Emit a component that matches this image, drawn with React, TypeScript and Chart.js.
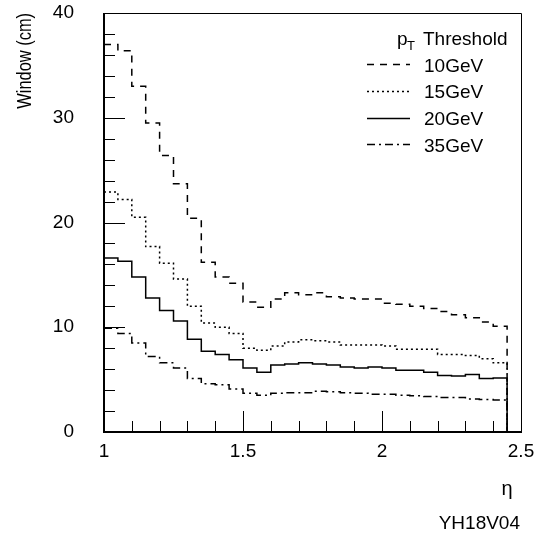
import React, { useEffect, useRef } from "react";
import { Chart, registerables } from "chart.js";

Chart.register(...registerables);

// Lower edges of the eta bins (width 0.05), plus the closing edge
const etaEdges = [
  1.0, 1.05, 1.1, 1.15, 1.2, 1.25, 1.3, 1.35, 1.4, 1.45,
  1.5, 1.55, 1.6, 1.65, 1.7, 1.75, 1.8, 1.85, 1.9, 1.95,
  2.0, 2.05, 2.1, 2.15, 2.2, 2.25, 2.3, 2.35, 2.4,
];
const etaEnd = 2.45;

const window10GeV = [
  37.0, 36.4, 33.0, 29.5, 26.4, 23.7, 20.4, 16.2, 14.8, 14.2,
  12.4, 11.9, 12.7, 13.3, 13.1, 13.3, 12.9, 12.8, 12.7, 12.7,
  12.3, 12.2, 12.0, 11.8, 11.5, 11.2, 10.9, 10.5, 10.1,
];
const window15GeV = [
  22.9, 22.2, 20.5, 17.7, 16.1, 14.6, 12.0, 10.4, 10.0, 9.4,
  8.0, 7.8, 8.2, 8.6, 8.8, 8.7, 8.6, 8.3, 8.3, 8.3,
  8.2, 7.9, 7.9, 7.9, 7.4, 7.4, 7.3, 7.0, 6.6,
];
const window20GeV = [
  16.6, 16.3, 14.8, 12.8, 11.6, 10.6, 8.85, 7.7, 7.4, 6.9,
  6.1, 5.7, 6.4, 6.5, 6.6, 6.5, 6.4, 6.2, 6.1, 6.2,
  6.1, 5.9, 5.9, 5.7, 5.4, 5.35, 5.5, 5.1, 5.15,
];
const window35GeV = [
  9.9, 9.4, 8.5, 7.2, 6.6, 6.1, 5.1, 4.6, 4.5, 4.1,
  3.7, 3.5, 3.7, 3.75, 3.75, 3.9, 3.85, 3.75, 3.7, 3.6,
  3.6, 3.5, 3.45, 3.4, 3.3, 3.3, 3.15, 3.1, 3.05,
];

const seriesLabels = ["10GeV", "15GeV", "20GeV", "35GeV"];
const seriesValues = [window10GeV, window15GeV, window20GeV, window35GeV];
const seriesDashes = [[7, 6], [2, 3], [], [8, 4, 2, 4]];

const xTickLabels = [1, 1.5, 2, 2.5];
const yTickLabels = [0, 10, 20, 30, 40];
const yTitle = "Window (cm)";
const xTitle = "η";
const figureCode = "YH18V04";

const FONT = "'Liberation Sans', Arial, Helvetica, sans-serif";

function histPoints(vals: number[]) {
  const pts = etaEdges.map((e, i) => ({ x: e, y: vals[i] }));
  pts.push({ x: etaEnd, y: vals[vals.length - 1] });
  pts.push({ x: etaEnd, y: 0 });
  return pts;
}

const decorPlugin = {
  id: "decor",
  afterDatasetsDraw(chart: any) {
    const { ctx, chartArea: a, scales } = chart;
    const xs = scales.x;
    const ys = scales.y;
    ctx.save();
    ctx.strokeStyle = "#000";
    // inward ticks
    ctx.lineWidth = 1;
    for (let k = 0; k <= 20; k++) {
      const v = k * 2;
      const major = v % 10 === 0;
      const py = Math.round(ys.getPixelForValue(v)) + 0.5;
      ctx.beginPath();
      ctx.moveTo(a.left, py);
      ctx.lineTo(a.left + (major ? 21 : 11), py);
      ctx.stroke();
    }
    for (let k = 0; k <= 15; k++) {
      const v = 1 + k * 0.1;
      const major = k % 5 === 0;
      const px = Math.round(xs.getPixelForValue(v)) + 0.5;
      ctx.beginPath();
      ctx.moveTo(px, a.bottom);
      ctx.lineTo(px, a.bottom - (major ? 21 : 11));
      ctx.stroke();
    }
    // frame
    ctx.lineWidth = 1;
    ctx.beginPath();
    ctx.moveTo(a.left, a.top + 0.5);
    ctx.lineTo(a.right + 0.5, a.top + 0.5);
    ctx.lineTo(a.right + 0.5, a.bottom);
    ctx.stroke();
    ctx.lineWidth = 2;
    ctx.beginPath();
    ctx.moveTo(a.left, a.top);
    ctx.lineTo(a.left, a.bottom);
    ctx.lineTo(a.right + 1, a.bottom);
    ctx.stroke();
    ctx.restore();
  },
  afterDraw(chart: any) {
    const { ctx, chartArea: a } = chart;
    ctx.save();
    ctx.fillStyle = "#000";
    ctx.textBaseline = "alphabetic";
    ctx.textAlign = "left";
    // legend title
    ctx.font = `19px ${FONT}`;
    ctx.fillText("p", 397, 45);
    ctx.font = `13px ${FONT}`;
    ctx.fillText("T", 407, 50);
    ctx.font = `19px ${FONT}`;
    ctx.fillText("Threshold", 423, 45);
    // legend entries
    chart.data.datasets.forEach((ds: any, i: number) => {
      const base = 71.7 + i * 26.7;
      ctx.font = `19px ${FONT}`;
      ctx.fillText(ds.label, 424, base);
      ctx.beginPath();
      ctx.setLineDash(ds.borderDash || []);
      ctx.lineWidth = ds.borderWidth;
      ctx.strokeStyle = ds.borderColor;
      const ly = Math.round(base - 7.5) + 0.5;
      ctx.moveTo(367, ly);
      ctx.lineTo(410, ly);
      ctx.stroke();
    });
    ctx.setLineDash([]);
    // y-axis title (rotated, end-aligned at the top of the frame)
    ctx.save();
    ctx.translate(31, a.top);
    ctx.rotate(-Math.PI / 2);
    ctx.scale(0.82, 1);
    ctx.font = `20px ${FONT}`;
    ctx.textAlign = "right";
    ctx.textBaseline = "alphabetic";
    ctx.fillText(yTitle, 0, 0);
    ctx.restore();
    // eta label
    ctx.font = `20px ${FONT}`;
    ctx.textAlign = "center";
    ctx.textBaseline = "middle";
    ctx.fillText(xTitle, a.right - 14, 489);
    // figure code
    ctx.font = `19px ${FONT}`;
    ctx.textAlign = "right";
    ctx.textBaseline = "alphabetic";
    ctx.fillText(figureCode, a.right - 1, 529);
    ctx.restore();
  },
};

export default function App() {
  const ref = useRef<HTMLCanvasElement>(null);
  useEffect(() => {
    if (!ref.current) return;
    const chart = new Chart(ref.current, {
      type: "line",
      data: {
        datasets: seriesLabels.map((label, i) => ({
          label,
          data: histPoints(seriesValues[i]),
          borderColor: "#000",
          borderWidth: 1.5,
          borderDash: seriesDashes[i],
          pointRadius: 0,
          fill: false,
          stepped: "before" as const,
          tension: 0,
        })),
      },
      options: {
        animation: false,
        responsive: false,
        devicePixelRatio: 1,
        layout: { padding: { top: 13, right: 18, left: 0, bottom: 0 } },
        plugins: {
          legend: { display: false },
          tooltip: { enabled: false },
        },
        scales: {
          x: {
            type: "linear",
            min: 1,
            max: 2.5,
            afterFit: (s: any) => {
              s.height = 104;
              s.paddingLeft = 0;
              s.paddingRight = 0;
              s.paddingTop = 0;
              s.paddingBottom = 0;
            },
            afterBuildTicks: (s: any) => {
              s.ticks = xTickLabels.map((v) => ({ value: v }));
            },
            grid: { display: false, drawTicks: false },
            border: { display: false },
            ticks: {
              color: "#000",
              padding: 8,
              maxRotation: 0,
              autoSkip: false,
              font: { family: FONT, size: 19 },
              callback: (v: any) => String(v),
            },
          },
          y: {
            min: 0,
            max: 40,
            afterFit: (s: any) => {
              s.width = 104;
              s.paddingLeft = 0;
              s.paddingRight = 0;
              s.paddingTop = 0;
              s.paddingBottom = 0;
            },
            afterBuildTicks: (s: any) => {
              s.ticks = yTickLabels.map((v) => ({ value: v }));
            },
            grid: { display: false, drawTicks: false },
            border: { display: false },
            ticks: {
              color: "#000",
              padding: 30,
              autoSkip: false,
              font: { family: FONT, size: 19 },
              callback: (v: any) => String(v),
            },
          },
        },
      },
      plugins: [decorPlugin],
    });
    return () => chart.destroy();
  }, []);
  return (
    <div style={{ position: "fixed", left: 0, top: 0, width: 539, height: 536, background: "#fff" }}>
      <canvas ref={ref} width={539} height={536} style={{ width: 539, height: 536, display: "block" }} />
    </div>
  );
}
